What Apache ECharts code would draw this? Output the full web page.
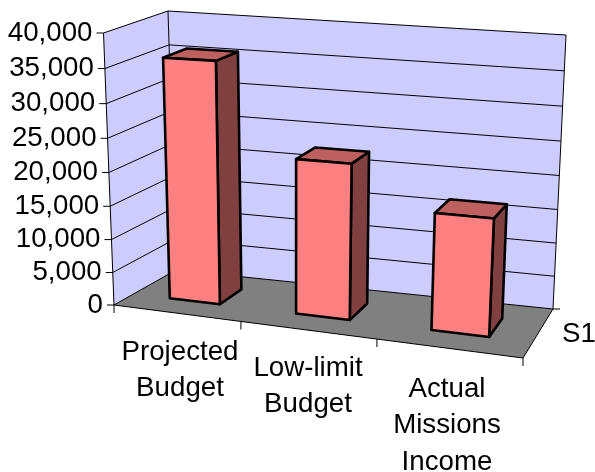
<!DOCTYPE html>
<html><head><meta charset="utf-8">
<style>html,body{margin:0;padding:0;background:#fff}#c{width:595px;height:472px}</style>
<script src="https://cdn.jsdelivr.net/npm/echarts@6/dist/echarts.min.js"></script>
</head><body><div id="c"></div>
<script>
const categories = ['Projected\nBudget', 'Low-limit\nBudget', 'Actual\nMissions\nIncome'];
const seriesName = 'S1';
const values = [35800, 22700, 16800];
const yTicks = [0, 5000, 10000, 15000, 20000, 25000, 30000, 35000, 40000];
const yMax = 40000;

// projected box corners
const F0=[114,305],F1=[523,358],B0=[176,270],B1=[553,309],
      T0=[103.5,33],T2=[538,55],T1=[168,11],T3=[566,35];
const warpW=w=>w*(1-0.05)/(1-0.05*w);
const warpU=u=>u*(1-0.1)/(1-0.1*u);
function P(u0,v,w0){
  const u=warpU(u0),w=warpW(w0);
  const o=[];
  for(let k=0;k<2;k++){
    const bot=(1-v)*(F0[k]+u*(F1[k]-F0[k]))+v*(B0[k]+u*(B1[k]-B0[k]));
    const top=(1-v)*(T0[k]+u*(T2[k]-T0[k]))+v*(T1[k]+u*(T3[k]-T1[k]));
    o.push(bot+(top-bot)*w);
  }
  return o;
}
const poly=(pts,fill,stroke,lw)=>({type:'polygon',shape:{points:pts},style:{fill:fill,stroke:stroke||null,lineWidth:lw||0,lineJoin:'round'}});
const line=(a,b,lw)=>({type:'line',shape:{x1:a[0],y1:a[1],x2:b[0],y2:b[1]},style:{stroke:'#000',lineWidth:lw||1}});
const txt=(x,y,s,al,va,size)=>({type:'text',x:x,y:y,style:{text:s,font:(size||27.7)+'px "Liberation Sans"',fill:'#000',align:al,verticalAlign:va,lineHeight:36.5}});

const chart=echarts.init(document.getElementById('c'),null,{renderer:'canvas'});
chart.setOption({
  animation:false,
  grid:{left:0,right:0,top:0,bottom:0},
  xAxis:{type:'category',data:categories,show:false},
  yAxis:{type:'value',min:0,max:yMax,interval:5000,show:false},
  series:[
   {type:'custom',coordinateSystem:'cartesian2d',data:[[0,0]],z:1,silent:true,
    renderItem(params,api){
      const cs=params.coordSys, ch=[];
      const wOf=val=>(cs.y+cs.height-api.coord([0,val])[1])/cs.height;
      ch.push(poly([P(0,0,0),P(0,1,0),P(0,1,1),P(0,0,1)],'#ccccff'));
      ch.push(poly([P(0,1,0),P(1,1,0),P(1,1,1),P(0,1,1)],'#ccccff'));
      ch.push(poly([P(0,0,0),P(1,0,0),P(1,1,0),P(0,1,0)],'#808080'));
      yTicks.forEach(t=>{
        const w=wOf(t);
        if(t>0){ch.push(line(P(0,0,w),P(0,1,w)));ch.push(line(P(0,1,w),P(1,1,w)));}
        const a=P(0,0,w);
        ch.push(line([a[0]-7,a[1]],a));
        ch.push(txt(a[0]-11,a[1],t===0?'0':echarts.format.addCommas(t),'right','middle'));
      });
      ch.push(line(P(0,0,0),P(0,0,1)));ch.push(line(P(0,1,0),P(0,1,1)));ch.push(line(P(1,1,0),P(1,1,1)));
      ch.push(line(P(0,0,0),P(0,1,0)));ch.push(line(P(0,1,0),P(1,1,0)));ch.push(line(P(0,0,0),P(1,0,0)));ch.push(line(P(1,0,0),P(1,1,0)));
      categories.forEach((c,i)=>{
        const a=P(i/3,0,0);ch.push(line(a,[a[0],a[1]+8]));
      });
      const a=P(1,0,0);ch.push(line(a,[a[0],a[1]+8]));
      const b=P(1,1,0);ch.push(line(b,[b[0]+7,b[1]]));
      return {type:'group',children:ch};
    }},
   {type:'custom',coordinateSystem:'cartesian2d',z:2,silent:true,name:seriesName,
    data:values.map((v,i)=>[i,v]),
    renderItem(params,api){
      const cs=params.coordSys;
      const c=api.coord([api.value(0),api.value(1)]);
      const bw=api.size([1,0])[0]*0.405;
      const u0=(c[0]-bw/2-cs.x)/cs.width,u1=(c[0]+bw/2-cs.x)/cs.width;
      const w=(cs.y+cs.height-c[1])/cs.height;
      const v0=.32,v1=.71,k='#000',lw=2.6;
      return {type:'group',children:[
        poly([P(u1,v0,0),P(u1,v1,0),P(u1,v1,w),P(u1,v0,w)],'#804040',k,lw),
        poly([P(u0,v0,w),P(u1,v0,w),P(u1,v1,w),P(u0,v1,w)],'#bf6060',k,lw),
        poly([P(u0,v0,0),P(u1,v0,0),P(u1,v0,w),P(u0,v0,w)],'#ff8080',k,lw)
      ]};
    }},
   {type:'custom',coordinateSystem:'cartesian2d',z:3,silent:true,
    data:categories.map((c,i)=>[i]),
    renderItem(params,api){
      const i=api.value(0);
      const xs=[180,308,447],ys=[334,350,371];
      return txt(xs[i],ys[i],categories[i],'center','top');
    }},
   {type:'custom',coordinateSystem:'cartesian2d',z:3,silent:true,data:[[0]],
    renderItem(){return txt(562,334,seriesName,'left','middle');}}
  ]
});
</script></body></html>
